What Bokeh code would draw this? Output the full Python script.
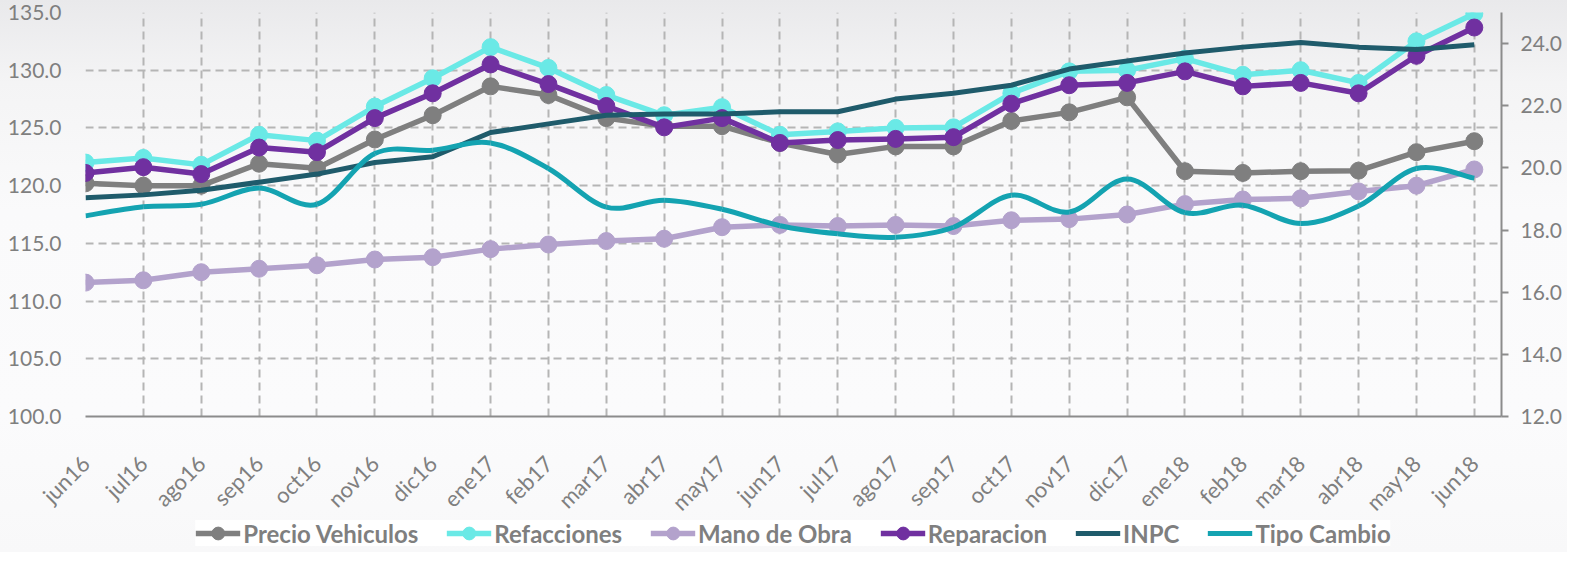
import math
from bokeh.plotting import figure
from bokeh.layouts import column
from bokeh.models import (Range1d, LinearAxis, FixedTicker,
                          NumeralTickFormatter, Legend, LegendItem)
from bokeh.embed import file_html
from bokeh.resources import INLINE

months = ["jun16", "jul16", "ago16", "sep16", "oct16", "nov16", "dic16", "ene17",
          "feb17", "mar17", "abr17", "may17", "jun17", "jul17", "ago17", "sep17",
          "oct17", "nov17", "dic17", "ene18", "feb18", "mar18", "abr18", "may18", "jun18"]

precio_vehiculos = [120.2, 120.0, 120.0, 121.9, 121.5, 124.0, 126.1, 128.6, 127.85, 125.85,
                    125.15, 125.15, 123.7, 122.7, 123.4, 123.4, 125.6, 126.35, 127.65, 121.25,
                    121.1, 121.25, 121.3, 122.9, 123.85]
refacciones = [122.0, 122.4, 121.8, 124.4, 123.9, 126.85, 129.3, 132.0, 130.2, 127.85,
               126.1, 126.8, 124.4, 124.7, 125.0, 125.05, 128.0, 129.9, 130.0, 131.0,
               129.6, 130.0, 128.9, 132.5, 134.9]
mano_de_obra = [111.6, 111.8, 112.5, 112.8, 113.1, 113.6, 113.8, 114.5, 114.9, 115.2,
                115.4, 116.4, 116.6, 116.5, 116.6, 116.5, 117.0, 117.1, 117.5, 118.4,
                118.8, 118.9, 119.5, 120.0, 121.4]
reparacion = [121.1, 121.6, 121.0, 123.3, 122.9, 125.85, 128.0, 130.5, 128.8, 126.9,
              125.05, 125.85, 123.7, 123.95, 124.05, 124.2, 127.1, 128.7, 128.9, 129.9,
              128.6, 128.9, 128.0, 131.25, 133.7]
inpc = [118.95, 119.2, 119.6, 120.3, 121.0, 122.0, 122.5, 124.6, 125.35, 126.1,
        126.2, 126.2, 126.4, 126.4, 127.5, 128.0, 128.7, 130.1, 130.8, 131.5,
        132.0, 132.4, 132.0, 131.8, 132.2]
tipo_cambio = [18.46, 18.75, 18.83, 19.35, 18.83, 20.46, 20.57, 20.8, 19.98, 18.74,
               18.96, 18.67, 18.14, 17.88, 17.77, 18.09, 19.12, 18.58, 19.64, 18.56,
               18.8, 18.21, 18.77, 19.98, 19.67]

left_ticks = [100, 105, 110, 115, 120, 125, 130, 135]
right_ticks = [12, 14, 16, 18, 20, 22, 24]

C_PRECIO = "#7f7f7f"
C_REFAC = "#6ae9e6"
C_MANO = "#b3a2cc"
C_REPAR = "#7030a0"
C_INPC = "#1f5b6b"
C_TIPO = "#14a3b1"
C_TEXT = "#7f7f7f"
C_GRID = "#b5b5b5"
C_AXIS = "#8c8c8c"

x = list(range(len(months)))

# ---------------- main chart ----------------
p = figure(width=1567, height=552, output_backend="svg", toolbar_location=None,
           x_range=Range1d(0, len(months) - 1 + 0.47),
           y_range=Range1d(left_ticks[0], left_ticks[-1]),
           min_border_left=85, min_border_right=66, min_border_top=12, min_border_bottom=136)
p.extra_y_ranges = {"tc": Range1d(right_ticks[0], 25)}

p.background_fill_color = None
p.border_fill_color = None
p.outline_line_color = None
p.styles = {"background": "linear-gradient(to bottom, #e9e9eb 0%, #f4f4f5 15%, #fafafb 38%, #fbfbfc 75%, #f8f8f9 100%)"}

xa = p.xaxis[0]
xa.ticker = FixedTicker(ticks=x)
xa.major_label_overrides = {i: m for i, m in enumerate(months)}
xa.major_label_orientation = math.pi / 4
xa.major_label_text_font = "Lato"
xa.major_label_text_font_size = "22px"
xa.major_label_text_color = C_TEXT
xa.major_label_standoff = 43
xa.axis_line_color = C_AXIS
xa.axis_line_width = 2
xa.major_tick_line_color = None
xa.minor_tick_line_color = None
xa.major_tick_out = 0
xa.minor_tick_out = 0

ya = p.yaxis[0]
ya.ticker = FixedTicker(ticks=left_ticks)
ya.formatter = NumeralTickFormatter(format="0.0")
ya.major_label_text_font = "Lato"
ya.major_label_text_font_size = "21px"
ya.major_label_text_color = C_TEXT
ya.major_label_standoff = 24
ya.axis_line_color = None
ya.major_tick_line_color = None
ya.minor_tick_line_color = None
ya.major_tick_out = 0
ya.minor_tick_out = 0

ra = LinearAxis(y_range_name="tc", ticker=FixedTicker(ticks=right_ticks),
                formatter=NumeralTickFormatter(format="0.0"))
ra.major_label_text_font = "Lato"
ra.major_label_text_font_size = "21px"
ra.major_label_text_color = C_TEXT
ra.major_label_standoff = 12
ra.axis_line_color = C_AXIS
ra.axis_line_width = 2
ra.major_tick_line_color = C_AXIS
ra.major_tick_line_width = 2
ra.major_tick_out = 7
ra.major_tick_in = 0
ra.minor_tick_line_color = None
ra.minor_tick_out = 0
p.add_layout(ra, "right")

p.xgrid.ticker = FixedTicker(ticks=x)
p.ygrid.ticker = FixedTicker(ticks=left_ticks)
for g in (p.xgrid[0], p.ygrid[0]):
    g.grid_line_color = C_GRID
    g.grid_line_width = 2
    g.grid_line_dash = "8 5"

# ---------------- legend strip (pulled up over the chart's lower border) ----------------
p2 = figure(width=1567, height=26, output_backend="svg", toolbar_location=None,
            x_axis_type=None, y_axis_type=None,
            x_range=Range1d(-3, -2), y_range=Range1d(0, 1),
            min_border_left=85, min_border_right=66, min_border_top=0, min_border_bottom=0)
p2.grid.visible = False
p2.outline_line_color = None
p2.background_fill_color = None
p2.border_fill_color = None
p2.margin = (-32, 0, 0, 0)
p2.extra_y_ranges = {"tc": Range1d(0, 1)}

items_main = []
items_leg = []


def marked(fig, vals, color):
    r = fig.line(x, vals, line_color=color, line_width=5.5, line_join="round")
    s = fig.scatter(x, vals, size=17, marker="circle", fill_color=color, line_color=color)
    return [r, s]


def smooth(fig, vals, color):
    n = len(vals)
    x0s, y0s, x1s, y1s, cx0s, cy0s, cx1s, cy1s = [], [], [], [], [], [], [], []
    for i in range(n - 1):
        a = max(i - 1, 0)
        d = min(i + 2, n - 1)
        x0s.append(x[i]); y0s.append(vals[i])
        x1s.append(x[i + 1]); y1s.append(vals[i + 1])
        cx0s.append(x[i] + (x[i + 1] - x[a]) / 6.0)
        cy0s.append(vals[i] + (vals[i + 1] - vals[a]) / 6.0)
        cx1s.append(x[i + 1] - (x[d] - x[i]) / 6.0)
        cy1s.append(vals[i + 1] - (vals[d] - vals[i]) / 6.0)
    return [fig.bezier(x0=x0s, y0=y0s, x1=x1s, y1=y1s, cx0=cx0s, cy0=cy0s,
                       cx1=cx1s, cy1=cy1s, line_color=color, line_width=5,
                       y_range_name="tc")]


series = [
    ("Precio Vehiculos", precio_vehiculos, C_PRECIO, "marked"),
    ("Refacciones", refacciones, C_REFAC, "marked"),
    ("Mano de Obra", mano_de_obra, C_MANO, "marked"),
    ("Reparacion", reparacion, C_REPAR, "marked"),
    ("INPC", inpc, C_INPC, "line"),
    ("Tipo Cambio", tipo_cambio, C_TIPO, "smooth"),
]

for label, vals, color, kind in series:
    for fig, bucket, vis in ((p, items_main, True), (p2, items_leg, False)):
        if kind == "marked":
            rs = marked(fig, vals, color)
        elif kind == "line":
            rs = [fig.line(x, vals, line_color=color, line_width=5, line_join="round")]
        else:
            rs = smooth(fig, vals, color)
        for r in rs:
            r.visible = vis
        bucket.append(LegendItem(label=label, renderers=rs))

legend = Legend(items=items_leg, orientation="horizontal", location="center")
legend.label_text_font = "Lato"
legend.label_text_font_style = "bold"
legend.label_text_font_size = "24px"
legend.label_text_color = C_TEXT
legend.glyph_width = 45
legend.glyph_height = 32
legend.label_height = 32
legend.label_standoff = 3
legend.spacing = 28
legend.padding = 33
legend.margin = 0
legend.background_fill_color = "white"
legend.background_fill_alpha = 1.0
legend.border_line_color = None
legend.inactive_fill_alpha = 0
p2.add_layout(legend, "center")

layout = column(p, p2, spacing=0)
open("out.html", "w").write(file_html(layout, INLINE))
